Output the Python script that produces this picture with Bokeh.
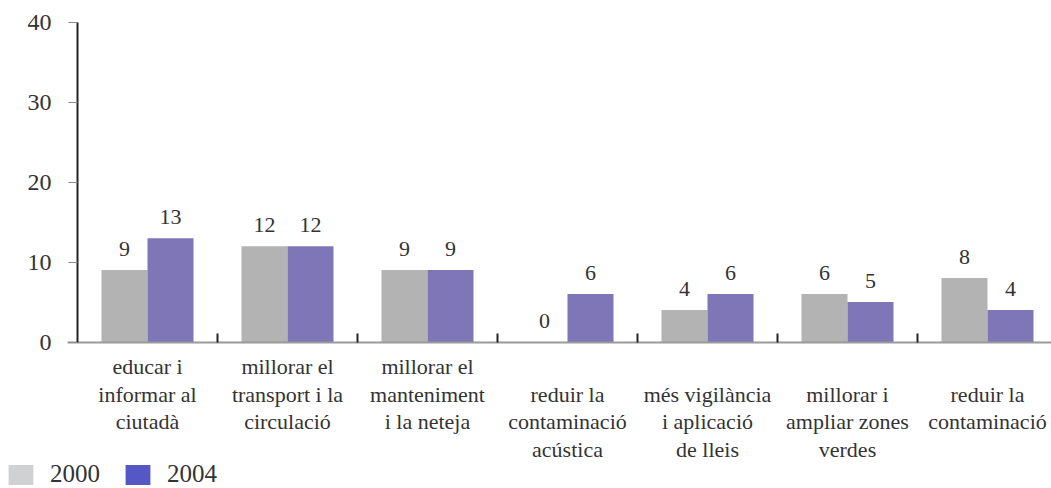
from bokeh.plotting import figure
from bokeh.models import FixedTicker, Legend, LegendItem
from bokeh.core.properties import value
from bokeh.embed import file_html
from bokeh.resources import INLINE

categories = [
    "educar i\ninformar al\nciutadà",
    "millorar el\ntransport i la\ncirculació",
    "millorar el\nmanteniment\ni la neteja",
    "reduir la\ncontaminació\nacústica",
    "més vigilància\ni aplicació\nde lleis",
    "millorar i\nampliar zones\nverdes",
    "reduir la\ncontaminació",
]
series_names = ["2000", "2004"]
values_2000 = [9, 12, 9, 0, 4, 6, 8]
values_2004 = [13, 12, 9, 6, 6, 5, 4]
y_ticks = [0, 10, 20, 30, 40]

FONT = "'Liberation Serif', serif"
TXT = "#333333"
bar_gray = "#b3b3b3"
bar_purple = "#7f76b7"
leg_gray = "#d0d1d3"
leg_purple = "#5557c5"

n = len(categories)
centers = list(range(n))
bw = 0.3286

# page geometry (pixels) -> data ranges, so that the frame fills the canvas
W, H = 1051, 488
px_per_cat = 140.0
x0_px = 147.0            # centre of first category
y0_px = 341.5            # baseline (value 0)
px_per_unit = 319.5 / 40.0
x_start = -x0_px / px_per_cat
x_end = (W - x0_px) / px_per_cat
y_end = y0_px / px_per_unit
y_start = -(H - y0_px) / px_per_unit

p = figure(width=W, height=H, x_range=(x_start, x_end), y_range=(y_start, y_end),
           output_backend="svg", toolbar_location=None,
           min_border=0, min_border_left=0, min_border_right=0,
           min_border_top=0, min_border_bottom=0)
p.outline_line_color = None
p.grid.visible = False
p.background_fill_color = "white"
p.border_fill_color = "white"

x_g = [c - bw / 2 for c in centers]
x_p = [c + bw / 2 for c in centers]
p.vbar(x=x_g, top=values_2000, width=bw, fill_color=bar_gray, line_color=None)
p.vbar(x=x_p, top=values_2004, width=bw, fill_color=bar_purple, line_color=None)

p.text(x=x_g, y=values_2000, text=[str(v) for v in values_2000], text_align="center",
       text_baseline="alphabetic", y_offset=-21, text_font_size="22px", text_color=TXT,
       text_font=value(FONT))
p.text(x=x_p, y=values_2004, text=[str(v) for v in values_2004], text_align="center",
       text_baseline="alphabetic", y_offset=-21, text_font_size="22px", text_color=TXT,
       text_font=value(FONT))

# x axis, pinned at value 0
xa = p.xaxis[0]
xa.fixed_location = 0
xa.bounds = (-0.5 - 10 / px_per_cat, x_end)
xa.ticker = FixedTicker(ticks=centers, minor_ticks=[c + 0.5 for c in centers[:-1]])
xa.major_label_overrides = {c: ("\n" if c >= 3 else "") + categories[c] for c in centers}
xa.major_tick_line_color = None
xa.major_tick_out = 0
xa.major_tick_in = 0
xa.minor_tick_in = 9
xa.minor_tick_out = 0
xa.minor_tick_line_color = "#222222"
xa.minor_tick_line_width = 2
xa.axis_line_color = "#9a9a9a"
xa.axis_line_width = 2
xa.major_label_text_font = FONT
xa.major_label_text_font_size = "22px"
xa.major_label_text_color = TXT
xa.major_label_text_line_height = 1.1
xa.major_label_standoff = 12

# y axis, pinned at the left edge of the first category
ya = p.yaxis[0]
ya.fixed_location = -0.5
ya.bounds = (0, 40)
ya.ticker = FixedTicker(ticks=y_ticks)
ya.axis_line_color = "#222222"
ya.axis_line_width = 2
ya.major_tick_out = 9
ya.major_tick_in = 0
ya.major_tick_line_color = "#888888"
ya.minor_tick_line_color = None
ya.major_label_text_font = FONT
ya.major_label_text_font_size = "24px"
ya.major_label_text_color = TXT
ya.major_label_standoff = 17

# legend swatches use their own colours (hidden renderers carry them)
r1 = p.vbar(x=x_g, top=values_2000, width=bw, fill_color=leg_gray, line_color=None, visible=False)
r2 = p.vbar(x=x_p, top=values_2004, width=bw, fill_color=leg_purple, line_color=None, visible=False)
legend = Legend(items=[LegendItem(label=series_names[0], renderers=[r1]),
                       LegendItem(label=series_names[1], renderers=[r2])],
                location=(5, 0), orientation="horizontal",
                glyph_width=31, glyph_height=25, label_standoff=14, spacing=22,
                padding=0, margin=0, border_line_color=None, background_fill_alpha=0,
                label_text_font=FONT, label_text_font_size="25px", label_text_color=TXT)
p.add_layout(legend, "center")

open("out.html", "w").write(file_html(p, INLINE))
